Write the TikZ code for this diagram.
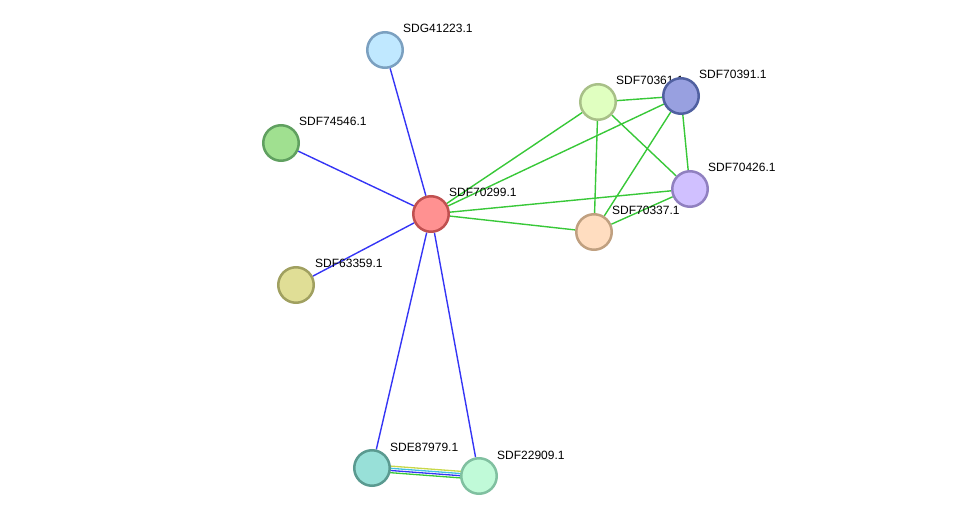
\documentclass[tikz,border=0pt]{standalone}
\usepackage{fontspec}
\setmainfont{Liberation Sans}
\usetikzlibrary{backgrounds}
\definecolor{eblue}{HTML}{3535F5}
\definecolor{egreen}{HTML}{38C838}
\definecolor{eyellow}{HTML}{C8D848}
\definecolor{ecyan}{HTML}{40C0E0}
\tikzset{
  prot/.style={circle, minimum size=35.5pt, inner sep=0pt, line width=2.5pt},
  lbl/.style={anchor=base west, font=\fontsize{12pt}{14pt}\selectfont, inner sep=0pt},
  bedge/.style={draw=eblue, line width=1.4pt},
  gedge/.style={draw=egreen, line width=1.4pt},
}
\begin{document}
\begin{tikzpicture}[x=1pt, y=-1pt]
\useasboundingbox (0,0) rectangle (975,521);
\node[lbl] (lc) at (449,197) {SDF70299.1};
\node[lbl] (lg) at (403,33) {SDG41223.1};
\node[lbl] (la) at (299,126) {SDF74546.1};
\node[lbl] (ls) at (315,268) {SDF63359.1};
\node[lbl] (le) at (390,451) {SDE87979.1};
\node[lbl] (lf) at (497,459) {SDF22909.1};
\node[lbl] (l61) at (616,85) {SDF70361.1};
\node[lbl] (l91) at (699,79) {SDF70391.1};
\node[lbl] (l26) at (708,172) {SDF70426.1};
\node[lbl] (l37) at (612,215) {SDF70337.1};
\node[prot, fill={rgb,255:red,255;green,145;blue,145}, draw={rgb,255:red,192;green,80;blue,80}] (c) at (431,214) {};
\node[prot, fill={rgb,255:red,192;green,232;blue,255}, draw={rgb,255:red,123;green,160;blue,192}] (g) at (385,50) {};
\node[prot, fill={rgb,255:red,160;green,224;blue,144}, draw={rgb,255:red,96;green,160;blue,96}] (a) at (281,143) {};
\node[prot, fill={rgb,255:red,224;green,222;blue,150}, draw={rgb,255:red,160;green,160;blue,96}] (s) at (296,285) {};
\node[prot, fill={rgb,255:red,152;green,224;blue,216}, draw={rgb,255:red,90;green,154;blue,144}] (e) at (372,468) {};
\node[prot, fill={rgb,255:red,192;green,250;blue,216}, draw={rgb,255:red,128;green,192;blue,160}] (f) at (479,476) {};
\node[prot, fill={rgb,255:red,224;green,255;blue,192}, draw={rgb,255:red,168;green,192;blue,136}] (n61) at (598,102) {};
\node[prot, fill={rgb,255:red,152;green,160;blue,224}, draw={rgb,255:red,80;green,96;blue,160}] (n91) at (681,96) {};
\node[prot, fill={rgb,255:red,208;green,192;blue,255}, draw={rgb,255:red,144;green,128;blue,192}] (n26) at (690,189) {};
\node[prot, fill={rgb,255:red,255;green,221;blue,192}, draw={rgb,255:red,192;green,160;blue,128}] (n37) at (594,232) {};
\begin{pgfonlayer}{background}
\draw[bedge] (c) -- (g);
\draw[bedge] (c) -- (a);
\draw[bedge] (c) -- (s);
\draw[bedge] (c) -- (e);
\draw[bedge] (c) -- (f);
\draw[gedge] (c) -- (n61);
\draw[gedge] (c) -- (n91);
\draw[gedge] (c) -- (n26);
\draw[gedge] (c) -- (n37);
\draw[gedge] (n61) -- (n91);
\draw[gedge] (n61) -- (n37);
\draw[gedge] (n61) -- (n26);
\draw[gedge] (n91) -- (n37);
\draw[gedge] (n91) -- (n26);
\draw[gedge] (n26) -- (n37);
\draw[draw=eyellow, line width=1.3pt] ([yshift=3.3pt]e.center) -- ([yshift=3.3pt]f.center);
\draw[draw=ecyan, line width=1.3pt] ([yshift=1.1pt]e.center) -- ([yshift=1.1pt]f.center);
\draw[draw=eblue, line width=1.3pt] ([yshift=-1.1pt]e.center) -- ([yshift=-1.1pt]f.center);
\draw[draw=egreen, line width=1.3pt] ([yshift=-3.3pt]e.center) -- ([yshift=-3.3pt]f.center);
\end{pgfonlayer}
\end{tikzpicture}
\end{document}
